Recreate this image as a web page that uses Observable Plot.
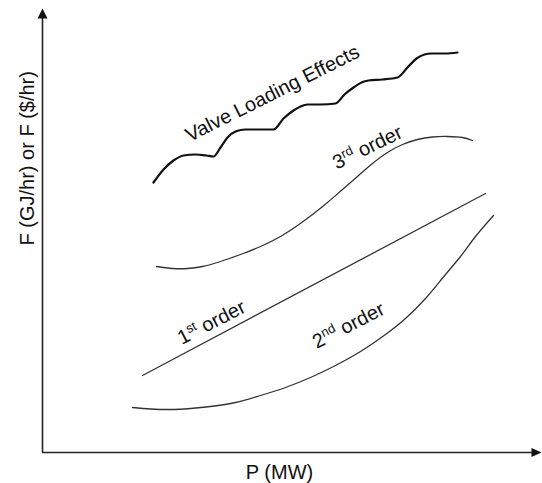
<!DOCTYPE html>
<html><head><meta charset="utf-8">
<script src="https://cdn.jsdelivr.net/npm/d3@7"></script>
<script src="https://cdn.jsdelivr.net/npm/@observablehq/plot@0.6"></script>
<style>body{margin:0;background:#fff}</style>
</head><body><div id="chart"></div>
<script>
// Schematic values (arbitrary units)
const valveP = [111,121,131,141,153,164,171,178,185,193,203,218,231,241,251,258,265,278,293,302,311,319,326,340,355,365,374,382,389,403,415];
const valveF = [270,283,292,297,298,297,296,305,315,321,323,323,323,334,342,346,348,348,349,358,365,370,372,373,375,385,394,398,399,399,400];
const thirdP = [114,130,145,160,178,198,218,238,255,270,285,300,315,330,345,360,375,390,405,420,430];
const thirdF = [186,184,184,186,191,198,206,216,227,238,250,263,276,289,300,308,313,315.5,316,315,312];
const firstP = [100,443];
const firstF = [77,259];
const secondP = [90,108,128,148,168,193,218,243,268,293,318,343,363,383,403,418,433,451];
const secondF = [45,43.5,43,44,46,50,57,65,75,87,101,118,134,154,178,196,216,237];

const labels = [
  {base:"Valve Loading Effects", sup:"", rest:"", P:230, F:359, angle:-26.6},
  {base:"3", sup:"rd", rest:" order", P:325, F:305, angle:-26},
  {base:"1", sup:"st", rest:" order", P:169, F:130, angle:-27},
  {base:"2", sup:"nd", rest:" order", P:306, F:127, angle:-27}
];
const xTitle = "P (MW)";
const yTitle = "F (GJ/hr) or F ($/hr)";

const rows = (P, F) => P.map((p, i) => ({P: p, F: F[i]}));
const triUp = {draw(ctx){ctx.moveTo(0,0);ctx.lineTo(5,10);ctx.lineTo(-5,10);ctx.closePath();}};
const triRight = {draw(ctx){ctx.moveTo(0,0);ctx.lineTo(-10,4.5);ctx.lineTo(-10,-4.5);ctx.closePath();}};

const font = "Liberation Sans, Arial, Helvetica, sans-serif";
const chart = Plot.plot({
  width: 542, height: 483,
  marginLeft: 42, marginRight: 0, marginTop: 0, marginBottom: 31,
  x: {domain: [0, 500], axis: null},
  y: {domain: [0, 452], axis: null},
  style: {fontFamily: font, background: "white", color: "#111"},
  marks: [
    Plot.ruleX([0], {y1: 0, y2: 437, stroke: "#222", strokeWidth: 1.6}),
    Plot.ruleY([0], {x1: 0, x2: 491, stroke: "#222", strokeWidth: 1.6}),
    Plot.dot([{P: 0, F: 444}], {x: "P", y: "F", symbol: triUp, fill: "#111", stroke: null}),
    Plot.dot([{P: 499, F: 0}], {x: "P", y: "F", symbol: triRight, fill: "#111", stroke: null}),
    Plot.line(rows(valveP, valveF), {x: "P", y: "F", curve: "monotone-x", stroke: "#111", strokeWidth: 2.2}),
    Plot.line(rows(thirdP, thirdF), {x: "P", y: "F", curve: "catmull-rom", stroke: "#333", strokeWidth: 1.3}),
    Plot.line(rows(firstP, firstF), {x: "P", y: "F", stroke: "#333", strokeWidth: 1.3}),
    Plot.line(rows(secondP, secondF), {x: "P", y: "F", curve: "catmull-rom", stroke: "#333", strokeWidth: 1.3}),
    Plot.text(labels, {x: "P", y: "F", text: d => d.base + d.sup + d.rest, rotate: "angle", fontSize: 20, fill: "#111", textAnchor: "middle", lineAnchor: "middle"}),
    Plot.text([xTitle], {frameAnchor: "bottom", lineAnchor: "top", dx: -13, dy: 12, fontSize: 20, fill: "#111"}),
    Plot.text([yTitle], {frameAnchor: "left", rotate: -90, dx: -15, dy: 19, fontSize: 20, fill: "#111", lineAnchor: "middle"})
  ]
});
document.getElementById("chart").appendChild(chart);

// superscripts
d3.select(chart).selectAll("text").each(function() {
  const t = this.textContent;
  const lab = labels.find(l => l.sup && l.base + l.sup + l.rest === t);
  if (!lab) return;
  const el = d3.select(this);
  el.text(null);
  el.append("tspan").text(lab.base);
  el.append("tspan").attr("baseline-shift", "super").attr("font-size", "65%").text(lab.sup);
  el.append("tspan").text(lab.rest);
});
</script>
</body></html>
